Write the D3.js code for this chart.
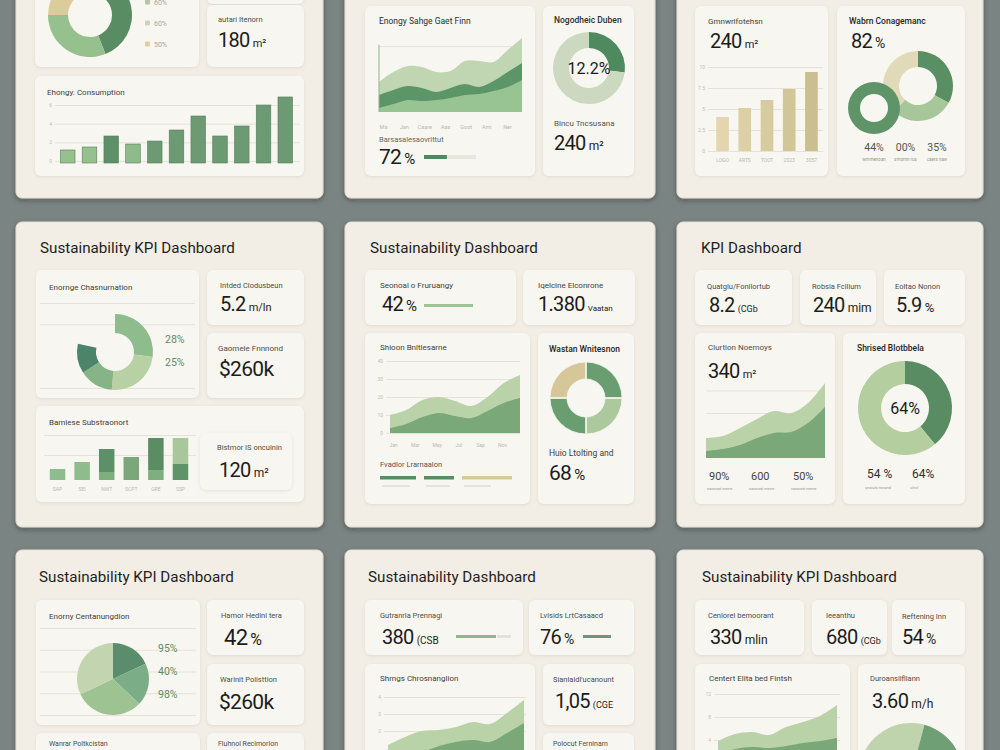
<!DOCTYPE html>
<html>
<head>
<meta charset="utf-8">
<script src="https://cdnjs.cloudflare.com/ajax/libs/d3/7.8.5/d3.min.js"></script>
<style>
  body { margin: 0; background: #7a8482; }
  svg { display: block; font-family: Roboto, "Noto Sans", sans-serif; }
</style>
</head>
<body>
<div id="chart"></div>
<script>
// ---- data ----
// top row, left panel
var ringA = [44, 31, 25];
var ringALegend = ["60%", "60%", "50%"];
var energyBars = [11.8, 15, 26.8, 18.2, 21.4, 33.2, 48.2, 26.8, 37.5, 60, 68.6];
var energyTicks = [0, 20, 40, 60];

// top row, middle panel
var streamLow = [5.4, 10.8, 16.2, 14.9, 16.2, 18.9, 23, 24.3, 28.4, 33.8, 43.2];
var streamMid = [23, 29.7, 35.1, 32.4, 27, 32.4, 37.8, 33.8, 41.9, 54, 66.2];
var streamTop = [40.5, 54, 62.2, 60.8, 54, 55.4, 68.9, 68.9, 67.6, 83.8, 100];
var streamMonths = ["Ma", "Jan", "Caare", "Aaa", "Goot", "Ami", "Ner"];
var streamProgress = [44];
var ringB = [27, 73];

// top row, right panel
var yearBars = [40.5, 51.2, 60.7, 73.8, 94];
var yearLabels = ["LOGO", "ARTS", "TOOT", "2023", "3057"];
var yearTicks = [0, 25, 50, 75, 100];
var ringC = [33, 29, 38];
var ringCLabels = ["44%", "00%", "35%"];
var ringCSub = ["wmmenoan", "smornn rus", "caers naw"];

// middle row, left panel
var ringD = [28, 25, 15, 13];
var ringDLabels = ["28%", "25%"];
var stackLow = [11, 18, 8, 23, 10, 16];
var stackHigh = [0, 0, 23, 0, 32, 26];
var stackLabels = ["SAP", "SEI", "NWT", "SCPT", "GRE", "SSP"];

// middle row, middle panel
var waveBack = [25, 31.9, 45.8, 50, 44.4, 37.5, 50, 69.4, 80.6];
var waveFront = [6.9, 12.5, 22.2, 27.8, 23.6, 20.8, 30.6, 41.7, 48.6];
var waveTicks = [0, 25, 50, 75, 100];
var waveMonths = ["Jan", "Mar", "May", "Jul", "Sep", "Nov"];
var splitBars = [36, 30, 50];
var splitSub = [28, 24, 27];
var ringE = [25, 25, 25, 25];

// middle row, right panel
var riseBack = [22.2, 24.4, 33.3, 43.3, 52.2, 50, 61.1, 83.3];
var riseFront = [7.8, 10, 14.4, 22.2, 27.8, 28.9, 38.9, 56.7];
var riseStats = ["90%", "600", "50%"];
var ringF = [39, 61];
var ringFStats = ["54 %", "64%"];

// bottom row
var pieG = [18, 19, 31, 32];
var pieGLabels = ["95%", "40%", "98%"];
var hillBack = [23.5, 32.9, 40, 41.2, 44.7, 50.6, 48.2, 61.2, 76.5];
var hillFront = [8.2, 11.8, 15.3, 22.4, 27.1, 29.4, 27.1, 37.6, 49.4];
var hillProgress = [40, 14];
var ridgeBack = [23.9, 31.5, 33.7, 30.4, 39.1, 44.6, 51.1, 63];
var ridgeFront = [8.7, 15.2, 17.4, 16.3, 18.5, 21.7, 23.9, 27.2];
var pieH = [95, 100, 85, 80];

// ---- colours ----
var DARK = "#5a8c64", MID = "#74a678", LIGHT = "#97c08f", PALE = "#bdd3ab", TAN = "#dccb9b";

var W = 1000, H = 750;
var svg = d3.select("#chart").append("svg").attr("width", W).attr("height", H);
var defs = svg.append("defs");
defs.append("filter").attr("id", "pshadow").attr("x", "-10%").attr("y", "-10%").attr("width", "120%").attr("height", "120%")
  .append("feDropShadow").attr("dx", 0).attr("dy", 2).attr("stdDeviation", 2.5)
  .attr("flood-color", "#1c2220").attr("flood-opacity", 0.35);
defs.append("filter").attr("id", "cshadow").attr("x", "-10%").attr("y", "-10%").attr("width", "120%").attr("height", "130%")
  .append("feDropShadow").attr("dx", 0).attr("dy", 1).attr("stdDeviation", 1.5)
  .attr("flood-color", "#8a7f66").attr("flood-opacity", 0.18);

svg.append("rect").attr("width", W).attr("height", H).attr("fill", "#7a8482");

function panel(x, y, w, h) {
  svg.append("rect").attr("x", x).attr("y", y).attr("width", w).attr("height", h).attr("rx", 6)
    .attr("fill", "#f2eee5").attr("stroke", "#e2ddd2").attr("filter", "url(#pshadow)");
}
function card(x, y, w, h) {
  svg.append("rect").attr("x", x).attr("y", y).attr("width", w).attr("height", h).attr("rx", 6)
    .attr("fill", "#f8f6f0").attr("filter", "url(#cshadow)");
}
function txt(x, y, s, size, color, weight, anchor) {
  return svg.append("text").attr("x", x).attr("y", y).attr("font-size", size)
    .attr("fill", color || "#4d4d48").attr("font-weight", weight || 400)
    .attr("text-anchor", anchor || "start").text(s);
}
function title(x, y, s) { return txt(x, y, s, 15.2, "#1f1f1d", 400); }
function value(x, y, num, unit, size, unitSize) {
  var t = svg.append("text").attr("x", x).attr("y", y).attr("font-size", size || 20)
    .attr("fill", "#1c1c1a").attr("letter-spacing", -0.7);
  t.append("tspan").text(num);
  if (unit) t.append("tspan").attr("font-size", unitSize || 12).attr("dx", 3).attr("letter-spacing", 0).text(unit);
  return t;
}
function ring(cx, cy, r0, r1, values, colors, opts) {
  opts = opts || {};
  var pie = d3.pie().sort(null)
    .startAngle(opts.start || 0)
    .endAngle(opts.end != null ? opts.end : (opts.start || 0) + 2 * Math.PI)
    .padAngle(opts.pad || 0);
  var arc = d3.arc().innerRadius(r0).outerRadius(r1);
  svg.append("g").attr("transform", "translate(" + cx + "," + cy + ")")
    .selectAll("path").data(pie(values)).enter().append("path")
    .attr("d", arc).attr("fill", function(d, i) { return colors[i]; })
    .attr("stroke", opts.stroke || "none").attr("stroke-width", opts.sw || 0);
}
function grid(y, ticks, x0, x1, fmt) {
  var g = svg.append("g").attr("transform", "translate(" + x0 + ",0)")
    .call(d3.axisLeft(y).tickValues(ticks).tickSize(-(x1 - x0)).tickPadding(3).tickFormat(fmt || d3.format("d")));
  g.select(".domain").remove();
  g.attr("font-family", null).attr("font-size", null);
  g.selectAll(".tick line").attr("stroke", "#e6e2d8");
  g.selectAll(".tick text").attr("fill", "#c2beb3").attr("font-size", 5);
  return g;
}
function xLabels(scale, y, size) {
  var g = svg.append("g").attr("transform", "translate(0," + y + ")")
    .call(d3.axisBottom(scale).tickSize(0).tickPadding(0));
  g.select(".domain").remove();
  g.attr("font-family", null).attr("font-size", null);
  g.selectAll(".tick text").attr("fill", "#bcb8ad").attr("font-size", size || 5.5);
  return g;
}
function areas(x, y, layers, colors) {
  layers.forEach(function(vals, i) {
    var a = d3.area().x(function(d, j) { return x(j); }).y0(y(0)).y1(function(d) { return y(d); })
      .curve(d3.curveCatmullRom.alpha(0.5));
    svg.append("path").datum(vals).attr("d", a).attr("fill", colors[i]);
  });
}

// ---- panels ----
var colX = [16, 345, 677], colW = [307, 310, 306];
var rowY = [-105, 222, 550], rowH = [303, 305, 305];
rowY.forEach(function(ry, r) {
  colX.forEach(function(cx, c) { panel(cx, ry, colW[c], rowH[r]); });
});

// ===== top row, left =====
card(35, -100, 164, 167);
card(207, -60, 97, 64);
card(207, 5, 97, 62);
card(35, 76, 269, 100);
ring(90, 15, 22, 42, ringA, [DARK, LIGHT, TAN]);
var legendY = d3.scalePoint().domain(d3.range(ringALegend.length)).range([2, 44]);
var legendC = ["#b3c7a7", "#cdd4bd", "#e2cf9f"];
ringALegend.forEach(function(s, i) {
  svg.append("rect").attr("x", 145).attr("y", legendY(i) - 2.5).attr("width", 5).attr("height", 5)
    .attr("rx", 1).attr("fill", legendC[i]);
  txt(154, legendY(i) + 2.5, s, 7, "#a9a89e");
});
txt(218, 22, "autari Itenorn", 7.5, "#4d4d48");
value(218, 47, "180", "m²", 20, 11);
txt(47, 95, "Ehongy. Consumption", 8, "#3f3f3b");
var eY = d3.scaleLinear().domain([0, 60]).range([161, 105]);
grid(eY, energyTicks, 55, 300, function(d) { return d / 10; });
var eX = d3.scaleBand().domain(d3.range(energyBars.length)).range([55, 298]).paddingInner(0.33).paddingOuter(0.25);
var eCol = [LIGHT, LIGHT, "#5f8f67", "#8fba8a", "#6c9a72", "#6c9a72", "#6c9a72", "#6c9a72", "#6c9a72", "#6c9a72", "#6c9a72"];
svg.append("g").selectAll("rect").data(energyBars).enter().append("rect")
  .attr("x", function(d, i) { return eX(i); }).attr("width", eX.bandwidth())
  .attr("y", function(d) { return eY(d); }).attr("height", function(d) { return eY(0) - eY(d) + 2; })
  .attr("fill", function(d, i) { return eCol[i]; }).attr("stroke", "#557f5d").attr("stroke-width", 0.6);

// ===== top row, middle =====
card(365, 6, 170, 170);
card(543, 6, 91, 170);
txt(379, 24, "Enongy Sahge Gaet Finn", 8.5, "#2e2e2b");
var sX = d3.scaleLinear().domain([0, streamTop.length - 1]).range([379, 522]);
var sY = d3.scaleLinear().domain([0, 100]).range([112, 38]);
grid(sY, [89], 379, 522, function() { return ""; });
areas(sX, sY, [streamTop, streamMid, streamLow], ["#c0d6b2", "#5b9568", "#98c392"]);
svg.append("line").attr("x1", 379).attr("x2", 379).attr("y1", sY(91)).attr("y2", sY(0))
  .attr("stroke", "#8fb58a").attr("stroke-width", 1);
xLabels(d3.scalePoint().domain(streamMonths).range([383, 507]), 125, 5.5);
txt(379, 142, "Barsasalesaovrittut", 7.5, "#66665f");
value(379, 164, "72", "%", 21, 15);
var pB = d3.scaleLinear().domain([0, 100]).range([0, 52]);
svg.append("rect").attr("x", 424).attr("y", 155).attr("width", pB(100)).attr("height", 4).attr("fill", "#e8e6de");
svg.append("rect").attr("x", 424).attr("y", 155).attr("width", pB(streamProgress[0])).attr("height", 4).attr("fill", "#4f8a5f");
txt(554, 23, "Nogodheic Duben", 8.5, "#2e2e2b", 500);
ring(589, 68, 20, 36, ringB, ["#4f8a5f", "#cdd8c0"]);
txt(589, 74, "12.2%", 16, "#1c1c1a", 400, "middle");
txt(554, 126, "Blncu Tncsusana", 8, "#55554f");
value(554, 150, "240", "m²", 20, 12);

// ===== top row, right =====
card(695, 6, 133, 170);
card(837, 6, 128, 170);
txt(708, 24, "Gmnwrlfotehsn", 8, "#3f3f3b");
value(710, 48, "240", "m²", 20, 11);
var yY = d3.scaleLinear().domain([0, 100]).range([151, 67]);
grid(yY, yearTicks, 708, 823, function(d) { return d / 10; });
var yX = d3.scaleBand().domain(yearLabels).range([706, 828]).paddingInner(0.43).paddingOuter(0.46);
var yCol = ["#e3d5ad", "#ddd0a4", "#d7cc9f", "#d0c698", "#c9bf90"];
svg.append("g").selectAll("rect").data(yearBars).enter().append("rect")
  .attr("x", function(d, i) { return yX(yearLabels[i]); }).attr("width", yX.bandwidth())
  .attr("y", function(d) { return yY(d); }).attr("height", function(d) { return yY(0) - yY(d); })
  .attr("fill", function(d, i) { return yCol[i]; });
xLabels(yX, 158, 5);
txt(849, 24, "Wabrn Conagemanc", 8.5, "#1f1f1d", 500);
value(851, 48, "82", "%", 20, 14);
ring(918, 86, 19, 35, ringC, ["#5a8f64", "#a7c69a", "#e0dab8"]);
ring(874, 108, 14, 26, [1], ["#5f9468"]);
var cX = d3.scalePoint().domain(d3.range(ringCLabels.length)).range([874, 937]);
ringCLabels.forEach(function(s, i) {
  txt(cX(i), 151, s, 10.5, "#555550", 400, "middle");
  txt(cX(i), 161, ringCSub[i], 4.5, "#9a978c", 400, "middle");
});

// ===== middle row, left =====
title(40, 253, "Sustainability KPI Dashboard");
card(36, 270, 163, 128);
card(207, 270, 97, 55);
card(207, 333, 97, 65);
card(36, 406, 268, 96);
txt(49, 290, "Enornge Chasnurnation", 8, "#3f3f3b");
var dY = d3.scaleLinear().domain([0, 4]).range([388, 303]);
grid(dY, [0, 3, 4], 40, 195, function() { return ""; });
ring(115, 352, 19, 38, ringD, ["#8ebc8d", "#b7d1a4", "#86b487", "#4c8469"], { end: 2 * Math.PI * 0.785 });
txt(165, 343, ringDLabels[0], 10.5, "#5f8a68");
txt(165, 366, ringDLabels[1], 10.5, "#5f8a68");
txt(220, 288, "Intded Clodusbeun", 7.5, "#4d4d48");
value(220, 311, "5.2", "m/ln", 20, 11);
txt(218, 351, "Gaomele Fnnnond", 8, "#4d4d48");
value(219, 376, "$260k", null, 21);
txt(49, 425, "Bamlese Substraonort", 8, "#3f3f3b");
var kY = d3.scaleLinear().domain([0, 50]).range([480, 430]);
grid(kY, [25, 45], 44, 196, function() { return ""; });
var kX = d3.scaleBand().domain(stackLabels).range([44, 194]).paddingInner(0.37).paddingOuter(0.235);
var lowCol = ["#8fbc8c", "#8fbc8c", "#7fae7f", "#7ba87b", "#7fae7f", "#5f9468"];
var highCol = ["none", "none", "#5d9066", "none", "#5b8d65", "#a8c89c"];
svg.append("g").selectAll("rect").data(stackLow).enter().append("rect")
  .attr("x", function(d, i) { return kX(stackLabels[i]); }).attr("width", kX.bandwidth())
  .attr("y", function(d) { return kY(d); }).attr("height", function(d) { return kY(0) - kY(d); })
  .attr("fill", function(d, i) { return lowCol[i]; });
svg.append("g").selectAll("rect").data(stackHigh).enter().append("rect")
  .attr("x", function(d, i) { return kX(stackLabels[i]); }).attr("width", kX.bandwidth())
  .attr("y", function(d, i) { return kY(stackLow[i] + d); }).attr("height", function(d) { return kY(0) - kY(d); })
  .attr("fill", function(d, i) { return highCol[i]; });
xLabels(kX, 487, 5);
card(200, 433, 92, 57);
txt(217, 450, "Bistmor IS oncuinin", 7.5, "#4d4d48");
value(219, 477, "120", "m²", 20, 12);

// ===== middle row, middle =====
title(370, 253, "Sustainability Dashboard");
card(365, 270, 151, 55);
card(523, 270, 112, 55);
card(365, 333, 165, 171);
card(538, 333, 96, 171);
txt(380, 288, "Seonoal o Fruruangy", 8, "#3f3f3b");
value(382, 311, "42", "%", 20, 15);
svg.append("rect").attr("x", 424).attr("y", 304).attr("width", 49).attr("height", 3).attr("fill", "#9cc496");
txt(538, 288, "Iqelcine Elconrone", 8, "#3f3f3b");
value(538, 311, "1.380", "Vaatan", 20, 8);
txt(380, 350, "Shioon Bnltiesarne", 8, "#3f3f3b");
var wY = d3.scaleLinear().domain([0, 100]).range([433, 361]);
grid(wY, waveTicks, 386, 520, function(d) { return d / 25 * 10; });
var wX = d3.scaleLinear().domain([0, waveBack.length - 1]).range([390, 520]);
areas(wX, wY, [waveBack, waveFront], ["#bad2a8", "#7aa878"]);
xLabels(d3.scalePoint().domain(waveMonths).range([393, 502]), 443, 5);
txt(380, 467, "Fvadlor Lrarnaalon", 7.5, "#55554f");
var lenX = d3.scaleLinear().domain([0, 50]).range([0, 50]);
var splitCol = ["#5a8c64", "#5a8c64", "#d6c99c"];
var runX = 380;
splitBars.forEach(function(v, i) {
  svg.append("rect").attr("x", runX).attr("y", 476).attr("width", lenX(v)).attr("height", 3.5).attr("fill", splitCol[i]);
  svg.append("rect").attr("x", runX + 2).attr("y", 485).attr("width", lenX(splitSub[i])).attr("height", 2).attr("fill", "#e6e3da");
  runX += lenX(v) + 8;
});
txt(549, 352, "Wastan Wnitesnon", 8.5, "#1f1f1d", 500);
ring(586, 398, 19, 36, ringE, ["#6a9e70", "#abc99c", "#6a9e70", "#d6c79b"], { pad: 0.02, stroke: "#f8f6f0", sw: 0.8 });
txt(549, 456, "Huio Ltolting and", 8.5, "#3f3f3b");
value(549, 480, "68", "%", 21, 15);

// ===== middle row, right =====
title(701, 253, "KPI Dashboard");
card(695, 270, 97, 55);
card(800, 270, 76, 55);
card(884, 270, 81, 55);
card(695, 333, 140, 171);
card(843, 333, 122, 171);
txt(707, 289, "Quatglu/Fonilortub", 7.5, "#4d4d48");
value(709, 312, "8.2", "(CGb", 20, 9);
txt(812, 289, "Robsia Fcilium", 7.5, "#4d4d48");
value(813, 312, "240", "mim", 20, 12);
txt(895, 289, "Eoltao Nonon", 7.5, "#4d4d48");
value(896, 312, "5.9", "%", 20, 13);
txt(708, 350, "Clurtion Noemoys", 8, "#4d4d48");
value(708, 378, "340", "m²", 20, 11);
var rY = d3.scaleLinear().domain([0, 100]).range([458, 368]);
grid(rY, [50, 75], 706, 825, function() { return ""; });
var rX = d3.scaleLinear().domain([0, riseBack.length - 1]).range([706, 825]);
areas(rX, rY, [riseBack, riseFront], ["#bad2a8", "#7aa878"]);
var statX = d3.scalePoint().domain(d3.range(riseStats.length)).range([709, 793]);
riseStats.forEach(function(s, i) {
  txt(statX(i), 480, s, 11, "#444440");
  txt(statX(i) - 2, 490, "nanosst mene", 4, "#9a978c");
});
txt(857, 351, "Shrised Blotbbela", 8.5, "#1f1f1d", 500);
ring(905, 408, 24, 47, ringF, ["#5a8c64", "#b4ce9f"]);
txt(905, 414, "64%", 16, "#1c1c1a", 400, "middle");
var fX = d3.scalePoint().domain(d3.range(ringFStats.length)).range([867, 912]);
ringFStats.forEach(function(s, i) {
  txt(fX(i), 478, s, 12, "#2e2e2b");
  txt(fX(i) - 2, 489, i ? "ulnvl" : "unsiuls tsnand", 4, "#9a978c");
});

// ===== bottom row, left =====
title(39, 582, "Sustainability KPI Dashboard");
card(36, 600, 164, 125);
card(207, 600, 97, 55);
card(207, 664, 97, 61);
card(36, 733, 164, 60);
card(207, 733, 97, 60);
txt(49, 619, "Enorny Centanungdion", 8, "#3f3f3b");
var gY = d3.scaleLinear().domain([0, 4]).range([715, 628]);
grid(gY, [0, 1, 2, 3, 4], 40, 196, function() { return ""; });
ring(113, 679, 0, 36, pieG, ["#5a8d6e", "#7bae87", "#9ec392", "#c3d5b0"]);
var gL = d3.scalePoint().domain(d3.range(pieGLabels.length)).range([652, 698]);
pieGLabels.forEach(function(s, i) { txt(158, gL(i), s, 10.5, "#5f8a68"); });
txt(221, 618, "Hamor Hedinl tera", 7.5, "#4d4d48");
value(224, 645, "42", "%", 22, 16);
txt(220, 682, "Warinit Polisttion", 7.5, "#4d4d48");
value(219, 709, "$260k", null, 21);
txt(49, 746, "Wanrar Poltkcistan", 7, "#4d4d48");
txt(218, 746, "Fluhnol Recimorion", 7, "#4d4d48");

// ===== bottom row, middle =====
title(368, 582, "Sustainability Dashboard");
card(365, 600, 158, 55);
card(529, 600, 105, 55);
card(365, 664, 170, 100);
card(543, 664, 91, 61);
card(543, 733, 91, 60);
txt(380, 618, "Gutranrla Prennagi", 7.5, "#4d4d48");
value(382, 644, "380", "(CSB", 20, 10);
var hP = d3.scaleLinear().domain([0, 40]).range([0, 40]);
svg.append("rect").attr("x", 456).attr("y", 635).attr("width", hP(hillProgress[0])).attr("height", 3).attr("fill", "#8fb88a");
svg.append("rect").attr("x", 456 + hP(hillProgress[0]) + 1).attr("y", 635).attr("width", hP(hillProgress[1])).attr("height", 3).attr("fill", "#e4e2da");
txt(540, 618, "Lvisids LrtCasaacd", 7.5, "#4d4d48");
value(540, 644, "76", "%", 20, 14);
svg.append("rect").attr("x", 583).attr("y", 635).attr("width", 28).attr("height", 3).attr("fill", "#6f957a");
txt(380, 681, "Shrngs Chrosnanglion", 8, "#3f3f3b");
var hY = d3.scaleLinear().domain([0, 100]).range([765, 680]);
grid(hY, [40, 60, 80], 384, 526, function(d) { return d / 20; });
var hX = d3.scaleLinear().domain([0, hillBack.length - 1]).range([388, 524]);
areas(hX, hY, [hillBack, hillFront], ["#bad2a8", "#7aa878"]);
txt(553, 682, "Sianlaidl'ucanount", 7.5, "#4d4d48");
value(555, 708, "1,05", "(CGE", 20, 9);
txt(553, 746, "Polocut Ferninarn", 7, "#4d4d48");

// ===== bottom row, right =====
title(702, 582, "Sustainability KPI Dashboard");
card(695, 600, 109, 55);
card(812, 600, 75, 55);
card(892, 600, 73, 55);
card(695, 664, 155, 100);
card(858, 664, 107, 100);
txt(708, 618, "Cenlorel bemoorant", 7.5, "#4d4d48");
value(710, 644, "330", "mlin", 20, 12);
txt(826, 618, "Ieeanthu", 7.5, "#4d4d48");
value(826, 644, "680", "(CGb", 20, 9);
txt(902, 619, "Reftening Inn", 7.5, "#4d4d48");
value(902, 644, "54", "%", 20, 14);
txt(709, 681, "Centert Elita bed Fintsh", 8, "#3f3f3b");
var tY = d3.scaleLinear().domain([0, 100]).range([763, 671]);
grid(tY, [25, 50, 75], 714, 840, function(d) { return d / 6 | 0; });
var tX = d3.scaleLinear().domain([0, ridgeBack.length - 1]).range([718, 837]);
areas(tX, tY, [ridgeBack, ridgeFront], ["#bad2a8", "#7aa878"]);
txt(870, 681, "Duroansilfllann", 7.5, "#4d4d48");
value(872, 708, "3.60", "m/h", 20, 12);
ring(911, 775, 0, 52, pieH, ["#bfd3ad", "#6f9f74", "#9cc190", "#e1e6d5"], { start: -80 * Math.PI / 180 });
</script>
</body>
</html>
